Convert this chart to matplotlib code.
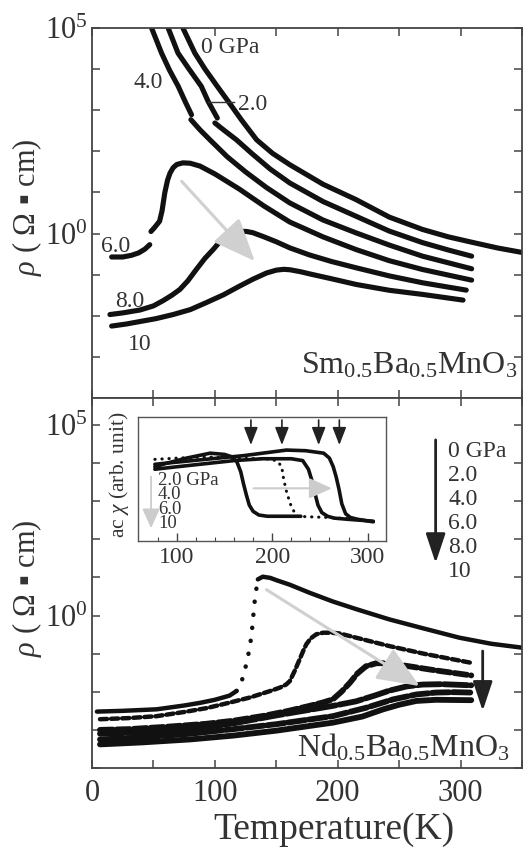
import numpy as np
import matplotlib
matplotlib.use('Agg')
import matplotlib.pyplot as plt
from matplotlib.lines import Line2D

plt.rcParams['font.family'] = ['Liberation Serif', 'DejaVu Serif']
plt.rcParams['mathtext.fontset'] = 'custom'
plt.rcParams['mathtext.rm'] = 'Liberation Serif'
plt.rcParams['mathtext.it'] = 'Liberation Serif:italic'
plt.rcParams['mathtext.default'] = 'regular'
plt.rcParams['text.color'] = '#333333'

# ---- Sm0.5Ba0.5MnO3 (log10 rho) ----
sm_T_0 = [74, 83.7, 92, 102, 111, 122, 134, 147, 161, 188, 215, 242, 269, 290, 309, 330, 352]
sm_r_0 = [5.0, 4.39, 4.0, 3.58, 3.21, 2.75, 2.28, 1.95, 1.675, 1.2, 0.825, 0.40, 0.10, -0.08, -0.21, -0.35, -0.47]

sm_T_2a = [62, 70, 79, 89, 94.6, 102]
sm_r_2a = [5.0, 4.39, 4.0, 3.58, 3.21, 2.81]
sm_T_2b = [100, 108, 117.6, 130, 145, 161, 188, 215, 242, 269, 290, 309]
sm_r_2b = [2.69, 2.5, 2.28, 1.95, 1.57, 1.23, 0.78, 0.42, 0.06, -0.22, -0.40, -0.55]

sm_T_4a = [48.5, 56.6, 63, 70.2, 76, 81]
sm_r_4a = [5.0, 4.39, 3.98, 3.58, 3.2, 2.89]
sm_T_4b = [80.5, 88, 96, 110, 125, 142, 161, 188, 215, 242, 269, 309]
sm_r_4b = [2.77, 2.52, 2.28, 1.87, 1.5, 1.12, 0.745, 0.33, 0.016, -0.28, -0.55, -0.857]

sm_T_6a = [16, 25, 32, 38, 43, 47]
sm_r_6a = [-0.57, -0.57, -0.53, -0.47, -0.38, -0.27]
sm_T_6b = [48, 51, 55, 57, 59.3, 61.5, 63.5, 66, 69, 74, 80, 88, 100, 120, 140, 161, 188, 215, 242, 269, 309]
sm_r_6b = [0.05, 0.15, 0.3, 0.55, 1.0, 1.3, 1.47, 1.6, 1.68, 1.72, 1.71, 1.64, 1.45, 1.08, 0.67, 0.28, -0.08, -0.39, -0.66, -0.874, -1.133]

sm_T_8 = [14.6, 25, 39, 50, 58, 65, 71.5, 78, 85, 92, 98.6, 104, 109.5, 115, 120, 126, 131, 140, 150, 161, 177, 195, 215, 242, 269, 304.6]
sm_r_8 = [-1.97, -1.93, -1.86, -1.76, -1.63, -1.5, -1.36, -1.15, -0.87, -0.6, -0.39, -0.2, -0.07, 0.02, 0.056, 0.05, 0.02, -0.08, -0.2, -0.348, -0.52, -0.68, -0.833, -1.03, -1.197, -1.376]

sm_T_10 = [16, 28, 39, 52, 66, 80, 93, 107, 120, 131, 142, 150, 156, 161, 170, 177, 195, 215, 242, 269, 302]
sm_r_10 = [-2.25, -2.2, -2.14, -2.07, -1.97, -1.85, -1.68, -1.49, -1.28, -1.11, -0.96, -0.89, -0.87, -0.88, -0.93, -0.98, -1.1, -1.238, -1.38, -1.48, -1.619]

# ---- Nd0.5Ba0.5MnO3 (log10 rho) ----
nd_T_0 = [4, 25, 52.6, 75, 88, 100, 112, 117.6, 121, 123, 125, 127, 129.8, 131, 132.5, 134, 135, 139,
          145, 150, 161, 177, 196, 215, 242, 269, 299, 325, 352]
nd_r_0 = [-2.52, -2.5, -2.46, -2.36, -2.29, -2.21, -2.1, -1.98, -1.8, -1.6, -1.35, -1.07, -0.54, -0.1, 0.4, 0.75, 0.95, 1.02,
          0.99, 0.93, 0.81, 0.6, 0.37, 0.17, -0.1, -0.33, -0.58, -0.74, -0.85]

nd_T_2 = [6.5, 30, 52.6, 75, 93, 110, 128.5, 145, 153, 158, 161, 165, 169, 172, 174.5, 178, 182.6, 188, 195, 201.6, 215, 242, 270, 308.7]
nd_r_2 = [-2.72, -2.69, -2.64, -2.53, -2.43, -2.3, -2.15, -1.98, -1.89, -1.81, -1.72, -1.45, -1.15, -0.92, -0.75, -0.6, -0.49, -0.45, -0.45, -0.47, -0.58, -0.8, -1.0, -1.24]

nd_T_4 = [6.5, 30, 60, 93, 115, 140, 160, 177, 188, 196, 203, 210, 216, 223, 231.5, 240, 256, 280, 308.7]
nd_r_4 = [-3.0, -2.98, -2.92, -2.84, -2.76, -2.63, -2.5, -2.37, -2.28, -2.2, -2.0, -1.76, -1.52, -1.33, -1.25, -1.25, -1.32, -1.44, -1.57]

nd_T_6 = [6.5, 40, 80, 115, 150, 196, 215, 230, 242, 256, 269, 285, 308.7]
nd_r_6 = [-3.1, -3.07, -2.98, -2.83, -2.62, -2.37, -2.25, -2.1, -1.97, -1.86, -1.81, -1.8, -1.83]

nd_T_8 = [6.5, 40, 80, 115, 150, 196, 223, 245, 264, 280, 295, 308.7]
nd_r_8 = [-3.25, -3.2, -3.1, -2.98, -2.85, -2.64, -2.42, -2.2, -2.07, -2.02, -2.01, -2.02]

nd_T_10 = [6.5, 40, 80, 115, 150, 196, 220, 237, 250, 264, 280, 308.7]
nd_r_10 = [-3.38, -3.33, -3.25, -3.15, -3.02, -2.81, -2.65, -2.46, -2.34, -2.24, -2.21, -2.22]

# ---- inset: ac chi (arb. unit) ----
chi_T_2 = [77, 90, 110, 130, 150, 170, 190, 215, 235, 254, 260, 264, 267, 270, 273, 277, 282, 290, 306]
chi_y_2 = [0.62, 0.63, 0.645, 0.66, 0.675, 0.69, 0.71, 0.735, 0.73, 0.71, 0.67, 0.6, 0.52, 0.42, 0.3, 0.22, 0.19, 0.175, 0.155]
chi_T_4 = [77, 100, 130, 160, 190, 220, 232, 238, 242, 245, 248, 252, 258, 265, 280, 306]
chi_y_4 = [0.58, 0.6, 0.625, 0.65, 0.665, 0.665, 0.65, 0.58, 0.48, 0.38, 0.29, 0.23, 0.2, 0.185, 0.175, 0.16]
chi_T_6 = [77, 100, 130, 160, 190, 200, 206, 210, 212, 215, 219, 222, 226, 240, 260, 280, 300]
chi_y_6 = [0.66, 0.67, 0.68, 0.67, 0.665, 0.66, 0.64, 0.6, 0.5, 0.4, 0.3, 0.25, 0.2, 0.195, 0.19, 0.18, 0.16]
chi_T_10 = [77, 90, 110, 135, 150, 158, 163, 167, 170, 173, 176, 180, 186, 195, 210, 230]
chi_y_10 = [0.6, 0.63, 0.67, 0.71, 0.7, 0.68, 0.64, 0.56, 0.46, 0.37, 0.29, 0.24, 0.21, 0.2, 0.2, 0.2]
chi_arrow_T = [177.7, 210.2, 248.7, 270.4]

W, H = 525, 850


def fx(x):
    return x / W


def fy(y):
    return 1 - y / H


def lg(v):
    return 10 ** np.array(v)


fig = plt.figure(figsize=(5.25, 8.5), dpi=100)
ax1 = fig.add_axes([fx(92), fy(398), 430 / W, 370 / H])
ax2 = fig.add_axes([fx(92), fy(768), 430 / W, 370 / H])

ink = '#111111'
for ax in (ax1, ax2):
    ax.set_yscale('log')
    ax.set_xlim(0, 350)
    ax.set_xticks(np.arange(0, 351, 50))
    ax.set_yticks(10.0 ** np.arange(-4, 6))
    ax.set_yticklabels(['' if e not in (0, 5) else '$10^{%d}$' % e for e in range(-4, 6)])
    ax.minorticks_off()
    ax.tick_params(direction='in', length=6, width=1.1, color='#444444',
                   top=True, right=True, labelsize=22, labelcolor='#333333')
    ax.tick_params(axis='y', pad=3)
    for s in ax.spines.values():
        s.set_color('#444444')
        s.set_linewidth(1.3)

ax1.set_ylim(1e-4, 1e5)
ax2.set_ylim(1e-4, 10 ** 5.71)
ax1.set_xticklabels([])
ax2.set_xticklabels(['0', '', '100', '', '200', '', '300', ''])
ax2.tick_params(axis='x', pad=8)

gray_arrow = dict(arrowstyle='-|>,head_length=1.2,head_width=0.5',
                  mutation_scale=22, color='#d0d0d0', lw=2.2, shrinkA=0, shrinkB=0)
black_arrow = dict(arrowstyle='-|>,head_length=1.2,head_width=0.4',
                   mutation_scale=15, color='#222222', lw=2.0, shrinkA=0, shrinkB=0)

# top panel curves
lw_top = 3.7
for T, r in [(sm_T_0, sm_r_0), (sm_T_2a, sm_r_2a), (sm_T_2b, sm_r_2b),
             (sm_T_4a, sm_r_4a), (sm_T_4b, sm_r_4b), (sm_T_6a, sm_r_6a),
             (sm_T_6b, sm_r_6b), (sm_T_8, sm_r_8), (sm_T_10, sm_r_10)]:
    ax1.plot(T, lg(r), color=ink, lw=lw_top, solid_capstyle='round')

ax1.annotate('', xy=(132.5, 10 ** -0.67), xytext=(73, 10 ** 1.27), arrowprops=gray_arrow)

fig.text(fx(201), fy(53), '0 GPa', fontsize=17, va='baseline')
fig.text(fx(133), fy(88), '4.0', fontsize=17, va='baseline')
fig.text(fx(238), fy(110), '2.0', fontsize=17, va='baseline')
fig.add_artist(Line2D([fx(208), fx(234)], [fy(101.7)] * 2, color='#333333', lw=1.0))
fig.text(fx(101), fy(252), '6.0', fontsize=17, va='baseline')
fig.text(fx(115), fy(307), '8.0', fontsize=17, va='baseline')
fig.text(fx(128), fy(350), '10', fontsize=17, va='baseline')
fig.text(fx(517), fy(373), 'Sm$_{0.5}$Ba$_{0.5}$MnO$_{3}$', fontsize=23, ha='right', va='baseline')

# bottom panel curves (dense measured points)
dots = dict(color=ink, lw=3.2, dash_capstyle='round', solid_capstyle='round')
band = dict(color=ink, lw=4.2, dash_capstyle='round', solid_capstyle='round')
T0 = np.array(nd_T_0)
r0 = np.array(nd_r_0)
steep = (T0 >= 117) & (T0 <= 136)
ax2.plot(T0[T0 <= 117.6], lg(r0[T0 <= 117.6]), **dots)
ax2.plot(T0[steep], lg(r0[steep]), ls=(0, (0.05, 2.9)), **dots)
ax2.plot(T0[T0 >= 135], lg(r0[T0 >= 135]), **dots)
ax2.plot(nd_T_2, lg(nd_r_2), ls=(0, (1.6, 0.9)), **dots)
ax2.plot(nd_T_4, lg(nd_r_4), ls=(0, (2.2, 0.7)), **band)
ax2.plot(nd_T_6, lg(nd_r_6), ls=(0, (4, 0.6)), **band)
ax2.plot(nd_T_8, lg(nd_r_8), ls=(0, (3, 0.6)), **band)
ax2.plot(nd_T_10, lg(nd_r_10), **band)

ax2.annotate('', xy=(266.7, 10 ** -1.85), xytext=(142, 10 ** 0.68), arrowprops=gray_arrow)
ax2.annotate('', xy=(318, 10 ** -2.5), xytext=(318, 10 ** -0.93), arrowprops=black_arrow)
ax2.annotate('', xy=(279.7, 10 ** 1.38), xytext=(279.7, 10 ** 4.61), arrowprops=black_arrow)
# multi-line text: baseline refers to the last line
fig.text(fx(448), fy(576.7), '0 GPa\n2.0\n4.0\n6.0\n8.0\n10', fontsize=17, va='baseline',
         linespacing=1.19)
fig.text(fx(510), fy(756.7), 'Nd$_{0.5}$Ba$_{0.5}$MnO$_{3}$', fontsize=23, ha='right', va='baseline')

ylab = '$\\mathit{\\rho}$ ( Ω ▪ cm)'
fig.text(fx(27), fy(207), ylab, fontsize=22, rotation=90, ha='center', va='center')
fig.text(fx(27), fy(588), ylab, fontsize=22, rotation=90, ha='center', va='center')
fig.text(fx(334), fy(830), 'Temperature(K)', fontsize=27, ha='center', va='center')

# inset
ins = fig.add_axes([fx(137.7), fy(541), 248 / W, 123.7 / H])
ins.set_xlim(59, 319)
ins.set_ylim(0, 1)
ins.set_xticks([100, 200, 300])
ins.set_xticks(np.arange(80, 320, 20), minor=True)
ins.set_yticks([])
ins.tick_params(axis='x', which='major', direction='in', length=6, width=1, color='#444444',
                labelsize=17, pad=4, labelcolor='#333333')
ins.tick_params(axis='x', which='minor', direction='in', length=3, width=0.8, color='#444444')
for s in ins.spines.values():
    s.set_color('#555555')
    s.set_linewidth(1.0)

ins_line = dict(color=ink, lw=2.6, solid_capstyle='round')
ins.plot(chi_T_2, chi_y_2, **ins_line)
ins.plot(chi_T_4, chi_y_4, **ins_line)
ins.plot(chi_T_10, chi_y_10, **ins_line)
ins.plot(chi_T_6, chi_y_6, ls=(0, (0.1, 2.2)), color=ink, lw=2.2, dash_capstyle='round')

for t in chi_arrow_T:
    ins.annotate('', xy=(t, 0.776), xytext=(t, 0.978),
                 arrowprops=dict(arrowstyle='-|>,head_length=0.9,head_width=0.35',
                                 mutation_scale=12, color='#222222', lw=1.2,
                                 shrinkA=0, shrinkB=0))
ins.annotate('', xy=(262.6, 0.426), xytext=(180.4, 0.426),
             arrowprops=dict(arrowstyle='-|>,head_length=1.0,head_width=0.45',
                             mutation_scale=14, color='#cccccc', lw=1.5,
                             shrinkA=0, shrinkB=0))
ins.annotate('', xy=(73, 0.103), xytext=(73, 0.52),
             arrowprops=dict(arrowstyle='-|>,head_length=1.0,head_width=0.45',
                             mutation_scale=12, color='#cccccc', lw=1.3,
                             shrinkA=0, shrinkB=0))
fig.text(fx(158), fy(528.3), '2.0 GPa\n4.0\n6.0\n10', fontsize=13.5, va='baseline',
         linespacing=0.8)
fig.text(fx(119), fy(475), 'ac $\\mathit{\\chi}$ (arb. unit)', fontsize=15.5, rotation=90,
         ha='center', va='center')

fig.savefig('out.png', dpi=100, facecolor='white')
